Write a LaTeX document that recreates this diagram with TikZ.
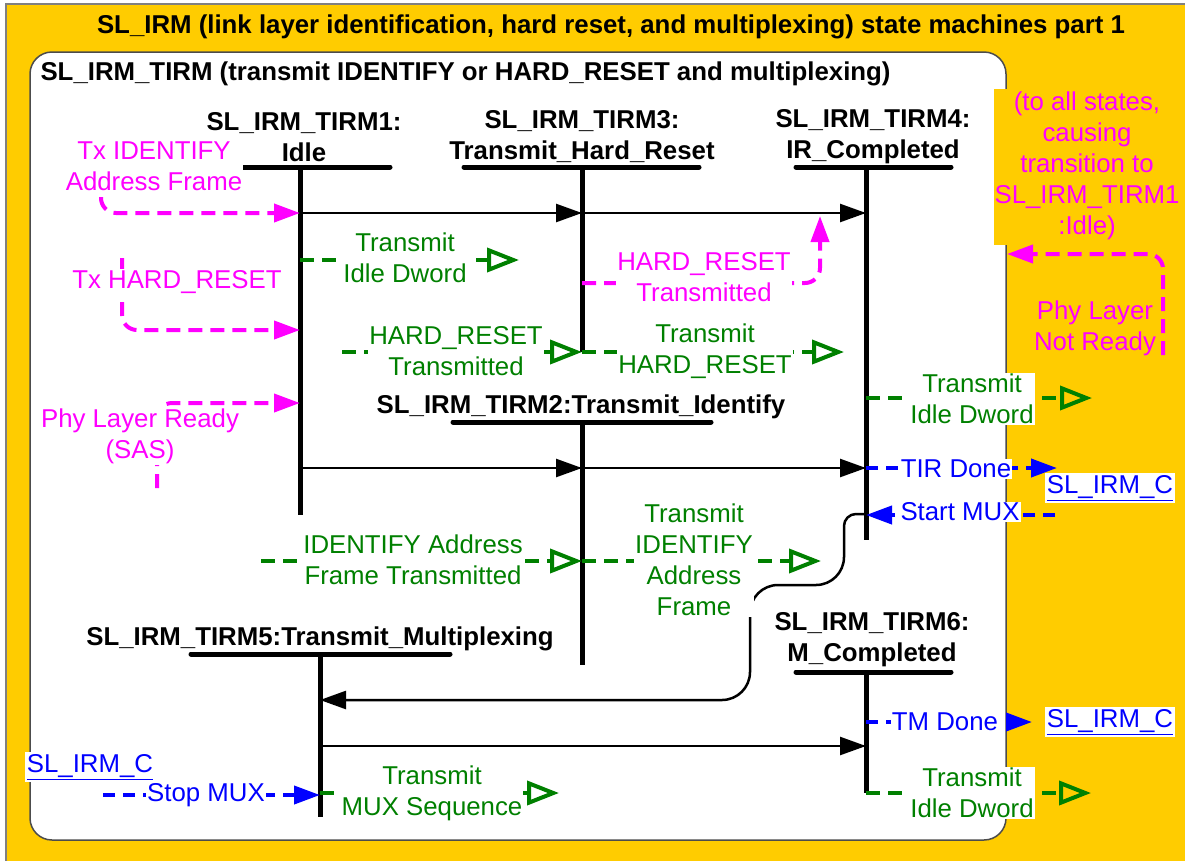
\documentclass[tikz,border=0pt]{standalone}
\usepackage{fontspec}
\setmainfont{Liberation Sans}
\usetikzlibrary{arrows.meta,positioning}
\definecolor{sasyellow}{RGB}{255,204,0}
\definecolor{sasgreen}{RGB}{0,128,0}
\definecolor{sasmagenta}{RGB}{255,0,255}
\newcommand{\sasfont}{\fontsize{25.8}{31}\selectfont}
\tikzstyle{statename} = [font=\sasfont\bfseries, align=center, inner sep=0pt]
\tikzstyle{evtext} = [font=\sasfont, align=center, inner sep=1pt, fill=white]
\tikzstyle{trans} = [line width=2.5pt, -{Triangle[length=26pt,width=18pt]}]
\tikzstyle{statebar} = [line width=5pt, line cap=round]
\tikzstyle{stateline} = [line width=5pt]

\begin{document}
\begin{tikzpicture}[x=1pt, y=-1pt,
  inev/.style={color=sasmagenta, line width=4pt, dash pattern=on 14pt off 8pt,
    rounded corners=15pt, -{Triangle[length=26pt,width=18pt]}},
  outev/.style={color=sasgreen, line width=4pt, dash pattern=on 14pt off 8pt,
    -{Triangle[open,length=32pt,width=24pt,line width=4pt]}},
  msgev/.style={color=blue, line width=4pt, dash pattern=on 12pt off 8pt,
    -{Triangle[length=26pt,width=18pt]}},
  intext/.style={evtext, text=sasmagenta},
  outtext/.style={evtext, text=sasgreen},
  msgtext/.style={evtext, text=blue},
  link/.style={evtext, text=blue, inner sep=2pt}]
  \useasboundingbox (0,0) rectangle (1185,860);
  % draw frames
  \fill[white] (0,0) rectangle (1185,860);
  \draw[fill=sasyellow, draw=gray, line width=1.5pt] (6,4) rectangle (1200,880);
  \draw[fill=white, draw=black!70, line width=1.5pt, rounded corners=22pt] (30,52) rectangle (1006,840);
  \fill[sasyellow] (994,89) rectangle (1190,245);
  \node[font=\sasfont\bfseries] (title) at (611,27) {SL\_IRM (link layer identification, hard reset, and multiplexing) state machines part 1};
  \node[font=\sasfont\bfseries, anchor=west] (subtitle) at (37,74) {SL\_IRM\_TIRM (transmit IDENTIFY or HARD\_RESET and multiplexing)};
  % draw state names
  \node[statename] (l1) at (304,137) {SL\_IRM\_TIRM1:\\Idle};
  \node[statename] (l3) at (582,137) {SL\_IRM\_TIRM3:\\Transmit\_Hard\_Reset};
  \node[statename] (l4) at (873,137) {SL\_IRM\_TIRM4:\\IR\_Completed};
  \node[statename] (l2) at (581,407) {SL\_IRM\_TIRM2:Transmit\_Identify};
  \node[statename] (l5) at (320,639) {SL\_IRM\_TIRM5:Transmit\_Multiplexing};
  \node[statename] (l6) at (872,640) {SL\_IRM\_TIRM6:\\M\_Completed};
  % draw state bars and state lines
  \foreach \n/\x/\bl/\br/\yt/\yb in {1/300/243/390/167/515, 3/582/464/699/167/352,
      4/866/796/951/167/540, 2/582/453/711/422/665, 5/320/191/450/654/817,
      6/866/796/951/672/793} {
    \draw[statebar] (\bl,\yt) -- (\br,\yt);
    \draw[stateline] (\x,\yt) coordinate (s\n) -- (\x,\yb) coordinate (s\n e);
  }
  % draw transitions
  \draw[trans] (s1 |- 0,213) -- (s3 |- 0,213);
  \draw[trans] (s3 |- 0,213) -- (s4 |- 0,213);
  \draw[trans] (s1 |- 0,468) -- (s2 |- 0,468);
  \draw[trans] (s2 |- 0,468) -- (s4 |- 0,468);
  \draw[trans] (s5 |- 0,746) -- (s6 |- 0,746);
  \draw[trans] (s4 |- 0,514) [rounded corners=12pt] -- (844,514) [rounded corners=28pt] -- (844,585) -- (750,585) -- (750,700) -- (s5 |- 0,700);
  % draw input events
  \coordinate (txidst) at (101,197);
  \coordinate (txhrst) at (122,258);
  \coordinate (physt) at (157,488);
  \coordinate (hrtip) at (820,216);
  \coordinate (nrst) at (1163,355);
  \coordinate (nrtip) at (1007,254);
  \draw[inev] (txidst) |- (s1 |- 0,213);
  \draw[inev] (txhrst) |- (s1 |- 0,330);
  \draw[inev] (physt) |- (s1 |- 0,403);
  \draw[inev] (s3 |- 0,283) -| (hrtip);
  \draw[inev] (nrst) |- (nrtip);
  \node[intext] (txid) at (154,166) {Tx IDENTIFY\\Address Frame};
  \node[intext] (txhr) at (177,282) {Tx HARD\_RESET};
  \node[intext] (phyrdy) at (140,436) {Phy Layer Ready\\(SAS)};
  \node[intext] (hrtx) at (704,277) {HARD\_RESET\\Transmitted};
  \node[intext, fill=none] (phynr) at (1095,328) {Phy Layer\\Not Ready};
  \node[intext, fill=none] (toall) at (1087,166) {(to all states,\\causing\\transition to\\SL\_IRM\_TIRM1\\:Idle)};
  % draw output events
  \coordinate (o1) at (519,260);
  \coordinate (o2) at (342,352);
  \coordinate (o3) at (844,352);
  \coordinate (o4) at (1092,398);
  \coordinate (o5) at (261,561);
  \coordinate (o6) at (821,561);
  \coordinate (o7) at (559,793);
  \coordinate (o8) at (1091,793);
  \draw[outev] (s1 |- 0,260) -- (o1);
  \draw[outev] (o2) -- (s3 |- 0,352);
  \draw[outev] (s3 |- 0,352) -- (o3);
  \draw[outev] (s4 |- 0,398) -- (o4);
  \draw[outev] (o5) -- (s2 |- 0,561);
  \draw[outev] (s2 |- 0,561) -- (o6);
  \draw[outev] (s5 |- 0,793) -- (o7);
  \draw[outev] (s6 |- 0,793) -- (o8);
  \node[outtext] (tx1) at (405,258) {Transmit\\Idle Dword};
  \node[outtext] (hrg) at (456,351) {HARD\_RESET\\Transmitted};
  \node[outtext] (txhrg) at (705,351) {Transmit\\HARD\_RESET};
  \node[outtext] (tx4) at (972,399) {Transmit\\Idle Dword};
  \node[outtext] (idtx) at (413,560) {IDENTIFY Address\\Frame Transmitted};
  \node[outtext] (txidg) at (694,560) {Transmit\\IDENTIFY\\Address\\Frame};
  \node[outtext] (txmux) at (432,793) {Transmit\\MUX Sequence};
  \node[outtext] (tx6) at (972,793) {Transmit\\Idle Dword};
  % draw messages to and from SL_IRM_C
  \coordinate (m1) at (1057,468);
  \coordinate (m2) at (1055,515);
  \coordinate (m3) at (1032,722);
  \coordinate (m4) at (103,795);
  \draw[msgev] (s4 |- 0,468) -- (m1);
  \draw[msgev] (m2) -- (s4 |- 0,515);
  \draw[msgev] (s6 |- 0,722) -- (m3);
  \draw[msgev] (m4) -- (s5 |- 0,795);
  \node[msgtext] (tirdone) at (956,469) {TIR Done};
  \node[msgtext] (startmux) at (960,512) {Start MUX};
  \node[msgtext] (tmdone) at (945,722) {TM Done};
  \node[msgtext] (stopmux) at (206,795) {Stop MUX};
  \node[link] (c1) at (1110,488) {\underline{SL\_IRM\_C}};
  \node[link] (c2) at (1110,722) {\underline{SL\_IRM\_C}};
  \node[link] (c3) at (90,767) {\underline{SL\_IRM\_C}};
\end{tikzpicture}
\end{document}
